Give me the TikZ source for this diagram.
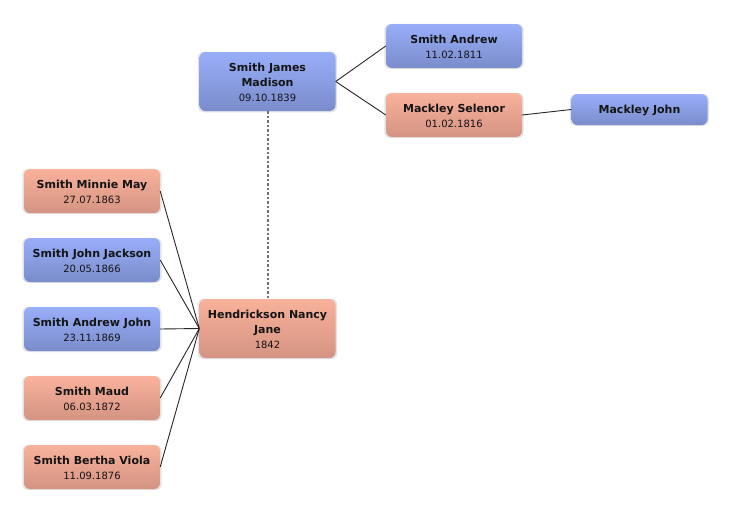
\documentclass[tikz,border=0pt]{standalone}
\usepackage{fontspec}
\setmainfont{DejaVu Sans}
\usetikzlibrary{shadows}
\definecolor{btop}{HTML}{98AEF8}
\definecolor{bbot}{HTML}{7A8CCB}
\definecolor{rtop}{HTML}{F9B29B}
\definecolor{rbot}{HTML}{D49383}
\tikzset{
  person/.style={rounded corners=6pt, minimum width=136pt, minimum height=44pt, inner sep=0pt,
    align=center, text=black!92, font=\fontsize{11}{15}\selectfont,
    drop shadow={shadow xshift=0pt, shadow yshift=-0.5pt, shadow scale=1.025, fill=black, opacity=0.11}},
  male/.style={person, top color=btop, bottom color=bbot},
  female/.style={person, top color=rtop, bottom color=rbot},
  tall/.style={minimum height=59pt},
  short/.style={minimum height=31pt},
  link/.style={draw=black!85, line width=0.9pt},
  marriage/.style={draw=black!55, line width=2pt, dash pattern=on 2.5pt off 2pt},
}
\newcommand{\nm}[1]{\rule{0pt}{11pt}\textbf{#1}}
\newcommand{\nmb}[1]{\textbf{#1}}
\newcommand{\dt}[1]{{\fontsize{10}{13}\selectfont #1}}
\begin{document}
\begin{tikzpicture}[x=1pt,y=-1pt]
\useasboundingbox (0,0) rectangle (732,514);
\node[male,tall] (sjm) at (267.5,81.5) {\nm{Smith James}\\\nmb{Madison}\\\dt{09.10.1839}};
\node[male] (sa) at (454,46) {\nm{Smith Andrew}\\\dt{11.02.1811}};
\node[female] (ms) at (454,115) {\nm{Mackley Selenor}\\\dt{01.02.1816}};
\node[male,short] (mj) at (639.5,109.5) {\nm{Mackley John}};
\node[female,tall] (hnj) at (267.5,328.5) {\nm{Hendrickson Nancy}\\\nmb{Jane}\\\dt{1842}};
\node[female] (smm) at (92,191) {\nm{Smith Minnie May}\\\dt{27.07.1863}};
\node[male] (sjj) at (92,260) {\nm{Smith John Jackson}\\\dt{20.05.1866}};
\node[male] (saj) at (92,329) {\nm{Smith Andrew John}\\\dt{23.11.1869}};
\node[female] (smd) at (92,398) {\nm{Smith Maud}\\\dt{06.03.1872}};
\node[female] (sbv) at (92,467) {\nm{Smith Bertha Viola}\\\dt{11.09.1876}};
\draw[link] (sjm.east) -- (sa.west);
\draw[link] (sjm.east) -- (ms.west);
\draw[link] (ms.east) -- (mj.west);
\foreach \c in {smm,sjj,saj,smd,sbv} \draw[link] (\c.east) -- (hnj.west);
\draw[marriage] (sjm.south) -- (hnj.north);
\end{tikzpicture}
\end{document}
